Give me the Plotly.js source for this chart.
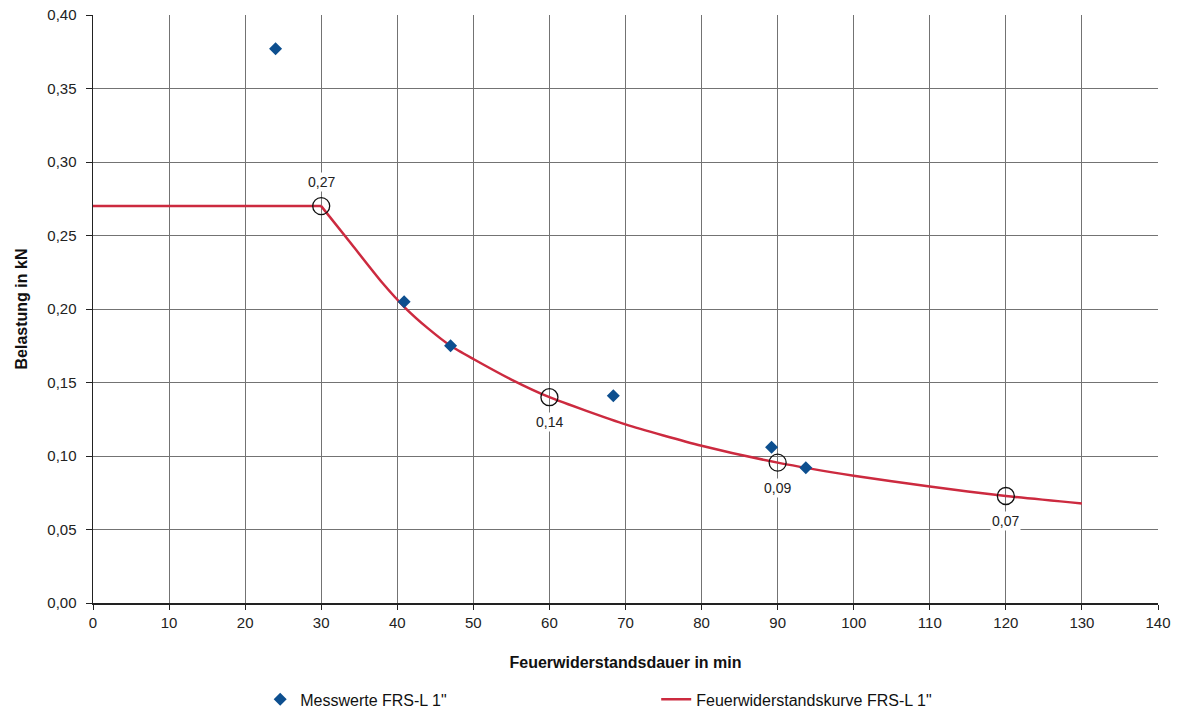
<!DOCTYPE html>
<html>
<head>
<meta charset="utf-8">
<script src="https://cdn.plot.ly/plotly-3.0.1.min.js"></script>
<style>html,body{margin:0;padding:0;background:#fff}#chart{width:1187px;height:712px}</style>
</head>
<body>
<div id="chart"></div>
<script>
// Measured values
const measX = [24.0, 40.9, 47.0, 68.4, 89.2, 93.7];
const measY = [0.377, 0.205, 0.175, 0.141, 0.106, 0.092];

// Fire-resistance curve
const curveX = [0, 30, 34, 38, 41, 44, 47, 50, 55, 60, 70, 80, 90, 100, 110, 120, 130];
const curveY = [0.27, 0.27, 0.244, 0.218, 0.201, 0.187, 0.175, 0.166, 0.152, 0.140, 0.1215, 0.107, 0.0955, 0.0866, 0.0792, 0.0728, 0.0677];

// Highlighted points with labels
const markX = [30, 60, 90, 120];
const markY = [0.27, 0.14, 0.0955, 0.0728];
const markLabels = ['0,27', '0,14', '0,09', '0,07'];
const markAbove = [true, false, false, false];

const xTicks = [0,10,20,30,40,50,60,70,80,90,100,110,120,130,140];
const yTicks = [0,0.05,0.10,0.15,0.20,0.25,0.30,0.35,0.40];

const kinkX = 30;
const flatX = curveX.filter(v => v <= kinkX);
const flatY = curveY.slice(0, flatX.length);
const smoothX = curveX.slice(flatX.length - 1);
const smoothY = curveY.slice(flatX.length - 1);

const red = '#cc2a3f';
const font = 'Liberation Sans, Arial, sans-serif';

const traces = [
  {x: flatX, y: flatY, type: 'scatter', mode: 'lines', line: {color: red, width: 2.5},
   legendgroup: 'c', showlegend: false, hoverinfo: 'skip'},
  {x: smoothX, y: smoothY, type: 'scatter', mode: 'lines', line: {color: red, width: 2.5, shape: 'spline', smoothing: 0.6},
   legendgroup: 'c', showlegend: false, hoverinfo: 'skip'},
  {x: markX, y: markY, type: 'scatter', mode: 'markers', showlegend: false,
   marker: {symbol: 'circle-open', size: 17, color: '#111', line: {width: 1.3, color: '#111'}}},
  {x: measX, y: measY, type: 'scatter', mode: 'markers', name: 'Messwerte FRS-L 1"',
   marker: {symbol: 'diamond', size: 10, color: '#0d4f8f'}},
  {x: [null], y: [null], type: 'scatter', mode: 'lines', name: 'Feuerwiderstandskurve FRS-L 1"',
   line: {color: red, width: 2.5}, legendgroup: 'c'}
];

const annotations = markX.map((x, i) => ({
  x: x, y: markY[i], xref: 'x', yref: 'y', text: markLabels[i], showarrow: false,
  yshift: markAbove[i] ? 24 : -25, bgcolor: '#ffffff', borderpad: 1,
  font: {family: font, size: 14, color: '#222'}
}));

const layout = {
  width: 1187, height: 712,
  margin: {l: 93, r: 29, t: 15, b: 109, autoexpand: false},
  paper_bgcolor: '#fff', plot_bgcolor: '#fff',
  separators: ', ',
  font: {family: font, size: 14, color: '#222'},
  xaxis: {
    range: [0, 140], tickvals: xTicks, ticktext: xTicks.map(String),
    showgrid: true, gridcolor: '#737373', gridwidth: 1,
    showline: true, linecolor: '#222', linewidth: 1.5,
    ticks: 'outside', ticklen: 5, tickcolor: '#222',
    zeroline: false, tickfont: {family: font, size: 15, color: '#222'},
    title: {text: '<b>Feuerwiderstandsdauer in min</b>', font: {family: font, size: 16, color: '#111'}, standoff: 27}
  },
  yaxis: {
    range: [0, 0.40], tickvals: yTicks, tickformat: '.2f',
    showgrid: true, gridcolor: '#737373', gridwidth: 1,
    showline: true, linecolor: '#222', linewidth: 1.5,
    ticks: 'outside', ticklen: 6, tickcolor: '#222', ticklabelstandoff: 6,
    zeroline: false, tickfont: {family: font, size: 15, color: '#222'},
    title: {text: '<b>Belastung in kN</b>', font: {family: font, size: 16, color: '#111'}, standoff: 15}
  },
  legend: {
    orientation: 'h', x: 0.157, xanchor: 'left', y: -0.135, yanchor: 'top',
    entrywidth: 351, entrywidthmode: 'pixels',
    font: {family: font, size: 16, color: '#111'}, traceorder: 'normal'
  },
  annotations: annotations,
  showlegend: true
};

Plotly.newPlot('chart', traces, layout, {displayModeBar: false, staticPlot: true});
</script>
</body>
</html>
